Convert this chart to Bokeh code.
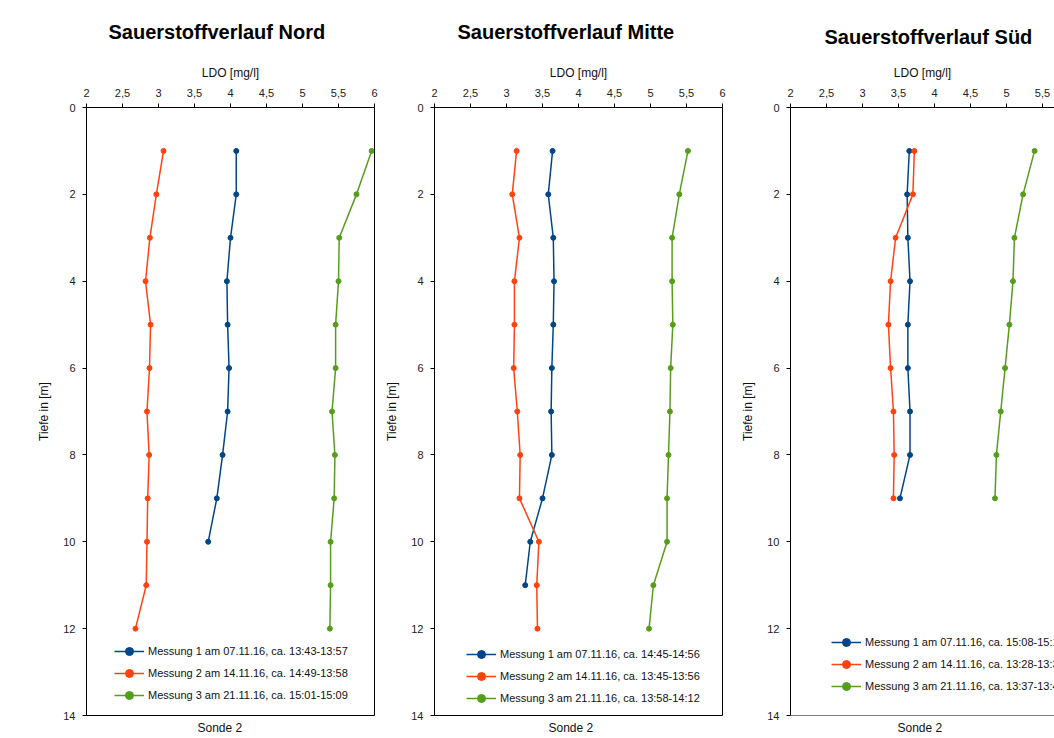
from bokeh.plotting import figure
from bokeh.layouts import row
from bokeh.models import (Range1d, FixedTicker, CustomJSTickFormatter, Legend,
                          LegendItem, Title, Span)
from bokeh.embed import file_html
from bokeh.resources import INLINE

# ---------------- data ----------------
depth = [1, 2, 3, 4, 5, 6, 7, 8, 9, 10, 11, 12]
x_ticks = [2, 2.5, 3, 3.5, 4, 4.5, 5, 5.5, 6]
y_ticks = [0, 2, 4, 6, 8, 10, 12, 14]

titles = ["Sauerstoffverlauf Nord", "Sauerstoffverlauf Mitte", "Sauerstoffverlauf Süd"]
x_label = "LDO [mg/l]"
y_label = "Tiefe in [m]"
bottom_label = "Sonde 2"

nord_m1 = [4.08, 4.08, 4.00, 3.95, 3.96, 3.98, 3.96, 3.89, 3.81, 3.69]
nord_m2 = [3.07, 2.97, 2.88, 2.82, 2.89, 2.875, 2.84, 2.87, 2.85, 2.84, 2.83, 2.68]
nord_m3 = [5.96, 5.75, 5.51, 5.50, 5.46, 5.46, 5.41, 5.45, 5.44, 5.39, 5.39, 5.38]

mitte_m1 = [3.64, 3.58, 3.65, 3.66, 3.65, 3.63, 3.62, 3.63, 3.50, 3.33, 3.26]
mitte_m2 = [3.14, 3.08, 3.18, 3.11, 3.11, 3.10, 3.15, 3.19, 3.18, 3.45, 3.42, 3.43]
mitte_m3 = [5.52, 5.40, 5.30, 5.30, 5.31, 5.28, 5.27, 5.25, 5.23, 5.23, 5.04, 4.98]

sued_m1 = [3.65, 3.62, 3.63, 3.66, 3.63, 3.63, 3.66, 3.66, 3.52]
sued_m2 = [3.72, 3.70, 3.46, 3.39, 3.36, 3.39, 3.43, 3.44, 3.43]
sued_m3 = [5.39, 5.23, 5.11, 5.09, 5.04, 4.98, 4.92, 4.86, 4.84]

nord_labels = ["Messung 1 am 07.11.16, ca. 13:43-13:57",
               "Messung 2 am 14.11.16, ca. 14:49-13:58",
               "Messung 3 am 21.11.16, ca. 15:01-15:09"]
mitte_labels = ["Messung 1 am 07.11.16, ca. 14:45-14:56",
                "Messung 2 am 14.11.16, ca. 13:45-13:56",
                "Messung 3 am 21.11.16, ca. 13:58-14:12"]
sued_labels = ["Messung 1 am 07.11.16, ca. 15:08-15:18",
               "Messung 2 am 14.11.16, ca. 13:28-13:36",
               "Messung 3 am 21.11.16, ca. 13:37-13:45"]

colors = ["#004586", "#ff420e", "#579d1c"]
FONT = "Liberation Sans"


def make_panel(title, series, labels, x_end, width, mbl, mbr, t_off, t_stand,
               s_off, leg_loc, outline=True):
    p = figure(width=width, height=738, x_range=Range1d(2, x_end),
               y_range=Range1d(14, 0), x_axis_location="above",
               toolbar_location=None, output_backend="svg",
               min_border_left=mbl, min_border_right=mbr,
               min_border_top=107, min_border_bottom=22)
    p.title.text = title
    p.title.align = "left"
    p.title.vertical_align = "top"
    p.title.offset = t_off
    p.title.standoff = t_stand
    p.title.text_font = FONT
    p.title.text_font_size = "20px"
    p.title.text_font_style = "bold"
    p.title.text_color = "#000000"

    p.xgrid.visible = False
    p.ygrid.visible = False
    p.background_fill_color = "white"
    p.border_fill_color = "white"
    if outline:
        p.outline_line_color = "#000000"
        p.outline_line_alpha = 1
        p.outline_line_width = 1
    else:
        p.outline_line_color = None
        p.add_layout(Span(location=14, dimension="width", line_color="#000000",
                          line_width=1))

    xa = p.xaxis[0]
    xa.ticker = FixedTicker(ticks=x_ticks)
    xa.formatter = CustomJSTickFormatter(code="return String(tick).replace('.', ',');")
    xa.axis_label = x_label
    ya = p.yaxis[0]
    ya.ticker = FixedTicker(ticks=y_ticks)
    ya.axis_label = y_label
    for ax in (xa, ya):
        ax.axis_line_color = "#000000"
        ax.major_tick_line_color = "#000000"
        ax.major_tick_out = 4
        ax.major_tick_in = 0
        ax.minor_tick_line_color = None
        ax.major_label_text_font = FONT
        ax.major_label_text_font_size = "11px"
        ax.major_label_text_color = "#222222"
        ax.major_label_standoff = 7
        ax.axis_label_text_font = FONT
        ax.axis_label_text_font_size = "12px"
        ax.axis_label_text_font_style = "normal"
        ax.axis_label_text_color = "#111111"
    xa.axis_label_standoff = 6
    ya.axis_label_standoff = 9

    p.add_layout(Title(text=bottom_label, align="left", offset=s_off,
                       text_font=FONT, text_font_size="12px",
                       text_font_style="normal", text_color="#111111",
                       standoff=7), "below")

    items = []
    for vals, lab, col in zip(series, labels, colors):
        ys = depth[:len(vals)]
        r1 = p.line(vals, ys, line_color=col, line_width=1.5)
        r2 = p.scatter(vals, ys, size=5, fill_color=col, line_color=col)
        items.append(LegendItem(label=lab, renderers=[r1, r2]))
    leg = Legend(items=items, location=leg_loc, padding=0, margin=0, spacing=2,
                 glyph_width=30, glyph_height=20, label_height=20,
                 label_standoff=4, label_text_font=FONT,
                 label_text_font_size="11px", label_text_color="#111111",
                 border_line_color=None, background_fill_alpha=0)
    p.add_layout(leg)
    return p


p1 = make_panel(titles[0], [nord_m1, nord_m2, nord_m3], nord_labels, 6,
                378, 86, 4, 22, 35, 111, (28, 10))
p2 = make_panel(titles[1], [mitte_m1, mitte_m2, mitte_m3], mitte_labels, 6,
                350, 56, 6, 23, 35, 114, (32, 7))
p3 = make_panel(titles[2], [sued_m1, sued_m2, sued_m3], sued_labels,
                2 + 264 / 72, 326, 62, 0, 34, 25, 107, (41, 19), outline=False)

layout = row(p1, p2, p3)
open("out.html", "w").write(file_html(layout, INLINE))
